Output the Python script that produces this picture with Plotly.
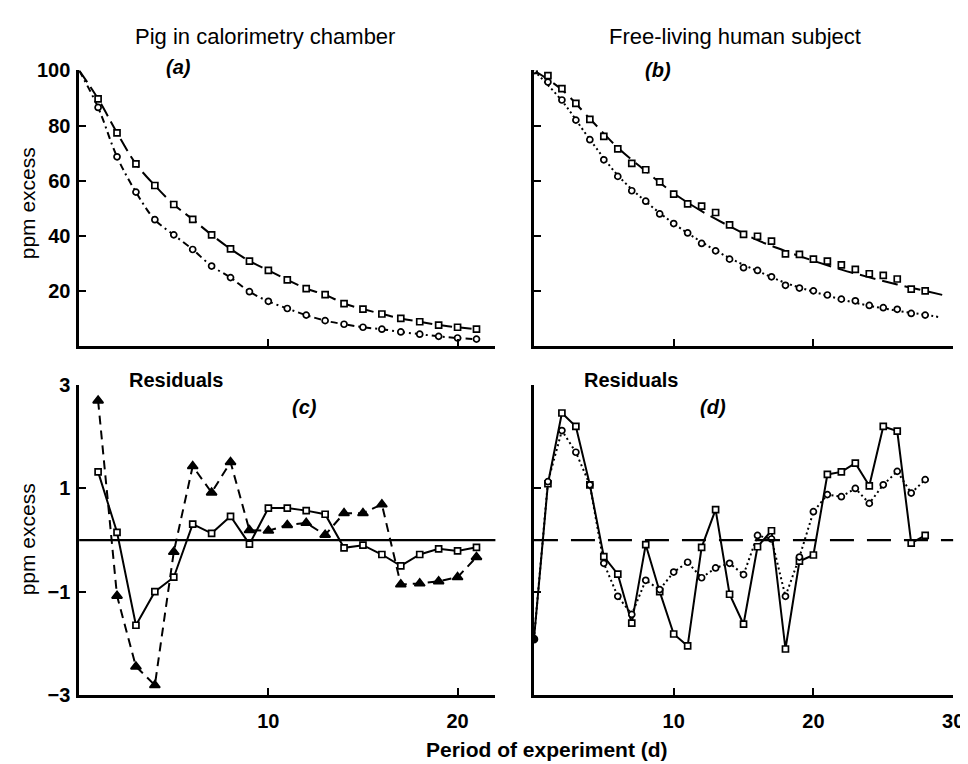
import plotly.graph_objects as go

# ---------------- data ----------------
# (a) Pig in calorimetry chamber
a_days = list(range(0, 22))
a_sq = [100, 89.7, 77.4, 66.1, 58.3, 51.4, 46.0, 40.4, 35.3, 30.9, 27.5, 24.1,
        20.9, 18.7, 15.5, 13.5, 11.7, 10.1, 8.9, 7.7, 6.9, 6.2]
a_ci = [100, 86.6, 68.7, 55.9, 45.9, 40.4, 35.1, 29.1, 24.9, 19.8, 16.3, 13.7,
        11.3, 9.3, 8.0, 6.9, 6.2, 5.2, 4.4, 3.6, 3.0, 2.6]

# (b) Free-living human subject
b_days = list(range(0, 29))
b_sq = [100, 98.1, 93.4, 88.1, 82.3, 76.1, 71.6, 66.3, 64.0, 59.6, 55.2, 51.6,
        50.8, 48.5, 44.0, 40.6, 39.9, 38.1, 33.5, 33.3, 31.6, 30.9, 29.5, 27.9,
        26.3, 25.7, 24.4, 20.7, 20.1]
b_ci = [100, 95.8, 89.3, 82.0, 74.9, 67.6, 61.6, 56.4, 52.6, 48.0, 44.5, 41.1,
        37.3, 34.6, 31.6, 28.5, 27.5, 25.2, 22.1, 21.1, 20.1, 18.6, 17.1, 16.5,
        14.8, 14.0, 13.4, 11.9, 11.3]
# fitted curves in (b), read at sample days
b_fit_days_sq = [0, 2, 4, 6, 8, 10, 12, 14, 16, 18, 20, 22, 24, 26, 28, 29.5]
b_fit_sq = [100, 93, 82.5, 72, 63.5, 55.5, 49, 43.5, 38.5, 34.5, 31, 27.8, 25, 22.4, 20.1, 18.3]
b_fit_days_ci = [0, 2, 4, 6, 8, 10, 12, 14, 16, 18, 20, 22, 24, 26, 28, 29]
b_fit_ci = [100, 89, 75, 62, 52.5, 44.5, 37.8, 32, 27.3, 23, 19.8, 17, 14.7, 12.9, 11.4, 10.6]

# (c) Residuals, pig
c_days = list(range(1, 22))
c_sq = [1.32, 0.15, -1.65, -1.0, -0.72, 0.31, 0.13, 0.46, -0.08, 0.62, 0.62,
        0.57, 0.50, -0.15, -0.10, -0.28, -0.50, -0.28, -0.17, -0.21, -0.14]
c_tri = [2.70, -1.08, -2.45, -2.81, -0.23, 1.43, 0.92, 1.51, 0.19, 0.18, 0.29,
         0.33, 0.10, 0.52, 0.52, 0.69, -0.86, -0.84, -0.80, -0.72, -0.33]

# (d) Residuals, human
d_days = list(range(0, 29))
d_sq = [-1.92, 1.09, 2.46, 2.20, 1.07, -0.32, -0.66, -1.61, -0.09, -1.0, -1.82,
        -2.05, -0.14, 0.59, -1.05, -1.63, -0.13, 0.18, -2.11, -0.41, -0.29,
        1.27, 1.32, 1.49, 1.05, 2.20, 2.11, -0.06, 0.09]
d_ci = [-1.92, 1.13, 2.12, 1.70, 1.07, -0.45, -1.09, -1.44, -0.78, -0.96, -0.62,
        -0.43, -0.73, -0.54, -0.45, -0.67, 0.09, 0.02, -1.09, -0.33, 0.55,
        0.88, 0.84, 1.00, 0.71, 1.07, 1.33, 0.91, 1.17]

top_ticks = [20, 40, 60, 80, 100]
res_ticks = [-3, -1, 1, 3]
res_ticktext = ["\u22123", "\u22121", "1", "3"]

# ---------------- figure ----------------
W, H = 968, 764
FONT = "Liberation Sans"
BLK = "black"

fig = go.Figure()


def mk(symbol, size=7, fill="white"):
    return dict(symbol=symbol, size=size, color=fill, line=dict(color=BLK, width=1.7))


def line_trace(x, y, dash, xa, ya, shape="linear", width=2.0):
    fig.add_trace(go.Scatter(x=x, y=y, mode="lines", xaxis=xa, yaxis=ya,
                             line=dict(color=BLK, width=width, dash=dash, shape=shape),
                             showlegend=False, hoverinfo="skip"))


def marker_trace(x, y, marker, xa, ya):
    fig.add_trace(go.Scatter(x=x, y=y, mode="markers", xaxis=xa, yaxis=ya,
                             marker=marker, showlegend=False))


# (a)
line_trace(a_days, a_sq, "14px,6px", "x", "y", shape="spline")
line_trace(a_days, a_ci, "7px,4px,2px,4px", "x", "y", shape="spline")
marker_trace(a_days[1:], a_sq[1:], mk("square", 6), "x", "y")
marker_trace(a_days[1:], a_ci[1:], mk("circle", 6), "x", "y")

# (b)
line_trace(b_fit_days_sq, b_fit_sq, "16px,7px", "x2", "y2", shape="spline")
line_trace(b_fit_days_ci, b_fit_ci, "2px,3px", "x2", "y2", shape="spline")
marker_trace(b_days, b_sq, mk("square", 6), "x2", "y2")
marker_trace(b_days, b_ci, mk("circle", 6), "x2", "y2")

# (c)
line_trace(c_days, c_sq, "solid", "x3", "y3")
line_trace(c_days, c_tri, "9px,6px", "x3", "y3")
marker_trace(c_days, c_sq, mk("square", 6), "x3", "y3")
marker_trace(c_days, c_tri, mk("triangle-up", 9, BLK), "x3", "y3")

# (d)
line_trace(d_days, d_sq, "solid", "x4", "y4")
line_trace(d_days, d_ci, "2px,3px", "x4", "y4")
marker_trace(d_days[1:], d_sq[1:], mk("square", 6), "x4", "y4")
marker_trace(d_days[1:], d_ci[1:], mk("circle", 6), "x4", "y4")
marker_trace(d_days[:1], d_sq[:1], mk("circle", 7, BLK), "x4", "y4")

# zero lines of the residual panels
fig.add_shape(type="line", xref="x3 domain", yref="y3", x0=0, x1=1, y0=0, y1=0,
              line=dict(color=BLK, width=2.2))
fig.add_shape(type="line", xref="x4 domain", yref="y4", x0=0, x1=1, y0=0, y1=0,
              line=dict(color=BLK, width=2.2, dash="24px,13px"))


def px(v):
    return v / W


def py(v):
    return 1 - v / H


left_dom = [px(72), px(493)]
right_dom = [px(532), px(956)]
top_dom = [py(337), py(53)]
bot_dom = [py(696), py(377)]

tickfont = dict(family=FONT, size=20, color=BLK, weight="bold")
axis_common = dict(showline=True, linecolor=BLK, linewidth=2.6, ticks="inside",
                   tickcolor=BLK, tickwidth=2, ticklen=7, showgrid=False,
                   zeroline=False, tickfont=tickfont)

fig.update_layout(
    width=W, height=H, margin=dict(l=0, r=0, t=0, b=0),
    paper_bgcolor="white", plot_bgcolor="white",
    font=dict(family=FONT, color=BLK),
    xaxis=dict(domain=left_dom, range=[0, 22], anchor="y", tickvals=[10, 20],
               showticklabels=False, **axis_common),
    yaxis=dict(domain=top_dom, range=[0, 100], anchor="x", tickvals=top_ticks,
               ticklabelstandoff=2, **axis_common),
    xaxis2=dict(domain=right_dom, range=[0, 30], anchor="y2", tickvals=[10, 20, 30],
                showticklabels=False, **axis_common),
    yaxis2=dict(domain=top_dom, range=[0, 100], anchor="x2", tickvals=top_ticks,
                showticklabels=False, **axis_common),
    xaxis3=dict(domain=left_dom, range=[0, 22], anchor="y3", tickvals=[10, 20],
                ticklabelstandoff=6, **axis_common),
    yaxis3=dict(domain=bot_dom, range=[-3, 3], anchor="x3", tickvals=res_ticks,
                ticktext=res_ticktext, ticklabelstandoff=2, **axis_common),
    xaxis4=dict(domain=right_dom, range=[0, 30], anchor="y4", tickvals=[10, 20, 30],
                ticklabelstandoff=6, **axis_common),
    yaxis4=dict(domain=bot_dom, range=[-3, 3], anchor="x4", tickvals=[-1, 1, 3],
                showticklabels=False, **axis_common),
)

ann = []


def text(x, y, s, size=17, angle=0, bold=False, italic=False, xanchor="center"):
    ann.append(dict(x=px(x), y=py(y), xref="paper", yref="paper", text=s,
                    showarrow=False, textangle=angle, xanchor=xanchor, yanchor="middle",
                    font=dict(family=FONT, size=size, color=BLK,
                              weight="bold" if bold else "normal",
                              style="italic" if italic else "normal")))


text(260, 18, "Pig in calorimetry chamber", size=22)
text(735, 18, "Free-living human subject", size=22)
text(172, 49, "(a)", size=20, bold=True, italic=True)
text(657, 52, "(b)", size=20, bold=True, italic=True)
text(170, 372, "Residuals", size=20, bold=True)
text(630, 372, "Residuals", size=20, bold=True)
text(300, 400, "(c)", size=20, bold=True, italic=True)
text(713, 400, "(d)", size=20, bold=True, italic=True)
text(20, 190, "ppm excess", size=21, angle=-90)
text(20, 536, "ppm excess", size=21, angle=-90)
text(545, 752, "Period of experiment (d)", size=21, bold=True)
fig.update_layout(annotations=ann)

fig.write_html("out.html")
